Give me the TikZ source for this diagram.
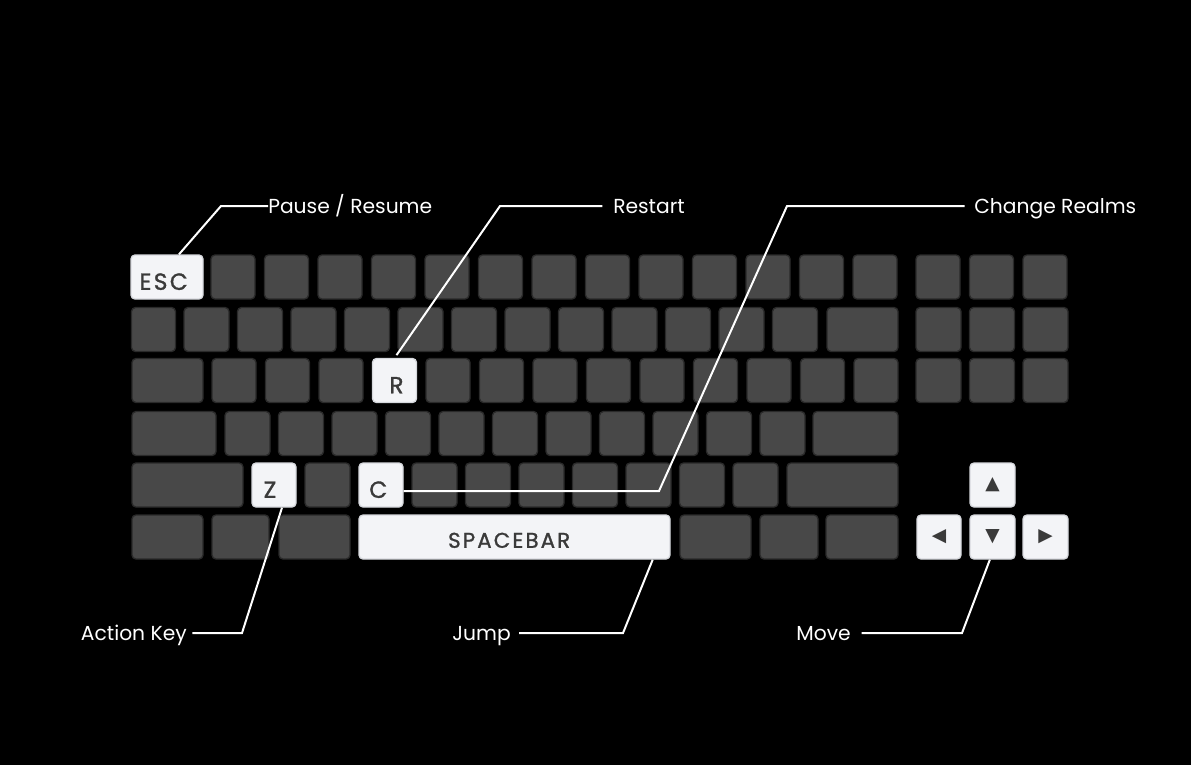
\documentclass[tikz,border=0pt]{standalone}
\usepackage{fontspec}
\setmainfont{Poppins}
\newfontfamily\capfont[LetterSpace=10, FakeBold=1.2]{Poppins}
\newfontfamily\symfont{DejaVu Sans}
\definecolor{keygray}{HTML}{484848}
\definecolor{keyedge}{HTML}{2A2A2A}
\definecolor{keywhite}{HTML}{F3F4F7}
\definecolor{litedge}{HTML}{D6D8DD}
\definecolor{captext}{HTML}{3A3A3A}
\begin{document}
\begin{tikzpicture}[x=0.75pt, y=-0.75pt,
	key/.style={draw=keyedge, line width=1pt, fill=keygray, rounded corners=3pt, minimum height=33pt, inner sep=0pt},
	kw/.style={minimum width=#1*0.75pt},
	litkey/.style={key, draw=litedge, fill=keywhite},
	keylabel/.style={text=captext, font=\capfont\fontsize{17.5}{17.5}\selectfont, yshift=-3.5pt},
	arrowlabel/.style={text=captext, font=\symfont\fontsize{14}{14}\selectfont},
	tag/.style={text=white, font=\fontsize{15.2}{17}\selectfont, inner sep=0pt, text height=10.6pt, text depth=0pt},
	lead/.style={draw=white, line width=1.5pt}]
	\fill[black] (0,0) rectangle (1191,765);
	% row 1
	\node[litkey, kw=72, label={[keylabel, xshift=-2.5pt]center:ESC}] (esc) at (167,277) {};
	\foreach \i in {0,...,12} \node[key, kw=44] (fa\i) at (233+53.5*\i,277) {};
	\foreach \i in {0,1,2} \node[key, kw=44] (fb\i) at (938+53.5*\i,277) {};
	% row 2
	\node[key, kw=44] (ba) at (153.5,329.5) {};
	\foreach \i in {0,...,11} \node[key, kw=45] (bb\i) at (206.5+53.5*\i,329.5) {};
	\node[key, kw=71] (bc) at (862.5,329.5) {};
	\foreach \i in {0,1,2} \node[key, kw=45] (bd\i) at (938.5+53.5*\i,329.5) {};
	% row 3
	\node[key, kw=71] (ca) at (167.5,380.5) {};
	\foreach \i in {0,1,2,4,5,6,7,8,9,10,11,12} \node[key, kw=44] (cb\i) at (234+53.5*\i,380.5) {};
	\node[litkey, kw=44, label={[keylabel, xshift=1.5pt]center:R}] (r) at (394.5,380.5) {};
	\foreach \i in {0,1,2} \node[key, kw=45] (cd\i) at (938.5+53.5*\i,380.5) {};
	% row 4
	\node[key, kw=84] (da) at (174,433.5) {};
	\foreach \i in {0,...,10} \node[key, kw=45] (db\i) at (247.5+53.5*\i,433.5) {};
	\node[key, kw=85] (dc) at (855.5,433.5) {};
	% row 5
	\node[key, kw=111] (ea) at (187.5,485) {};
	\node[litkey, kw=44, label={[keylabel, xshift=-3pt]center:Z}] (z) at (274,485) {};
	\node[litkey, kw=44, label={[keylabel, xshift=-2pt]center:C}] (c) at (381,485) {};
	\foreach \i in {1,3,4,5,6,7,8,9} \node[key, kw=45] (eb\i) at (274+53.5*\i,485) {};
	\node[key, kw=111] (ec) at (842.5,485) {};
	\node[litkey, kw=45, label={[arrowlabel]center:▲}] (up) at (992.5,485) {};
	% row 6
	\node[key, kw=71] (ga) at (167.5,537) {};
	\node[key, kw=57] (gb) at (240.5,537) {};
	\node[key, kw=71] (gc) at (314.5,537) {};
	\node[litkey, kw=311, label={[keylabel, font=\capfont\fontsize{16}{16}\selectfont, xshift=-4pt, yshift=1pt]center:SPACEBAR}] (space) at (514.5,537) {};
	\node[key, kw=71] (gd) at (715.5,537) {};
	\node[key, kw=58] (ge) at (789,537) {};
	\node[key, kw=72] (gf) at (862,537) {};
	\node[litkey, kw=44, label={[arrowlabel]center:◀}] (left) at (939,537) {};
	\node[litkey, kw=45, label={[arrowlabel]center:▼}] (down) at (992.5,537) {};
	\node[litkey, kw=45, label={[arrowlabel]center:▶}] (right) at (1045.5,537) {};
	% labels
	\node[tag, anchor=west] (pause) at (268,206) {Pause / Resume};
	\node[tag, anchor=west] (restart) at (613,206) {Restart};
	\node[tag, anchor=west] (change) at (974,206) {Change Realms};
	\node[tag, anchor=east] (action) at (187,633) {Action Key};
	\node[tag, anchor=east] (jump) at (511,633) {Jump};
	\node[tag, anchor=east] (move) at (851,633) {Move};
	\draw[lead] ([xshift=9pt]esc.north) -- (221,206) -- (pause.west);
	\draw[lead, shorten >=8pt] ([xshift=1.5pt,yshift=2pt]r.north) -- (500,206) -- (restart.west);
	\draw[lead, shorten >=7pt] ([yshift=-4.5pt]c.east) -- (659,491) -- (787,206) -- (change.west);
	\draw[lead, shorten >=4pt] ([xshift=6pt]z.south) -- (242,633) -- (action.east);
	\draw[lead, shorten >=6pt] ([xshift=-13.5pt]space.south east) -- (623,633) -- (jump.east);
	\draw[lead, shorten >=8pt] ([xshift=-2pt]down.south) -- (962,633) -- (move.east);
\end{tikzpicture}
\end{document}
